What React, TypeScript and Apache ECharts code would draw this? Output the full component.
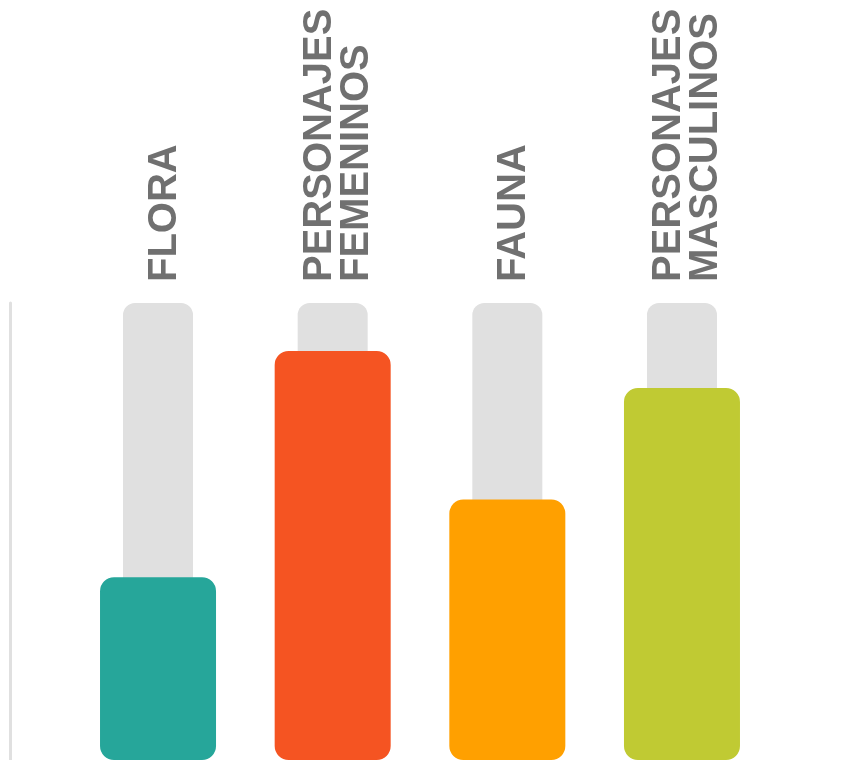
import React, { useEffect, useRef } from "react";
import * as echarts from "echarts";

const categories = ["FLORA", "PERSONAJES\nFEMENINOS", "FAUNA", "PERSONAJES\nMASCULINOS"];
const values = [40, 89.5, 57, 81.4];
const maxValues = [100, 100, 100, 100];
const barColors = ["#26a69a", "#f55422", "#ffa000", "#c0ca33"];

export default function App() {
  const ref = useRef<HTMLDivElement>(null);
  useEffect(() => {
    if (!ref.current) return;
    const chart = echarts.init(ref.current, null, { renderer: "svg" });
    const labelStyle = {
      fontSize: 40,
      lineHeight: 35,
      fontWeight: "bold",
      fontFamily: "Liberation Sans",
      color: "#707070",
    };
    chart.setOption({
      animation: false,
      grid: { left: 70.7, right: 86.7, top: 303, bottom: -2 },
      xAxis: [
        {
          type: "category",
          data: categories,
          position: "top",
          axisLine: { show: false },
          axisTick: { show: false },
          axisLabel: {
            rotate: 90,
            interval: 0,
            margin: 21,
            ...labelStyle,
            formatter: (v: string) =>
              v
                .split("\n")
                .map((line, i, arr) => (i === arr.length - 1 ? `{b|${line}}` : `{a|${line}}`))
                .join("\n"),
            rich: {
              a: { ...labelStyle, height: 38, verticalAlign: "top" },
              b: { ...labelStyle, height: 42, verticalAlign: "top" },
            },
          },
        },
        {
          type: "category",
          data: categories,
          show: false,
        },
      ],
      yAxis: {
        type: "value",
        min: 0,
        max: 100,
        offset: 60.5,
        axisLine: { show: true, lineStyle: { color: "#e0e0e0", width: 3 } },
        axisTick: { show: false },
        axisLabel: { show: false },
        splitLine: { show: false },
      },
      series: [
        {
          type: "bar",
          xAxisIndex: 1,
          data: maxValues,
          barWidth: 70,
          itemStyle: { color: "#e0e0e0", borderRadius: 12 },
          silent: true,
        },
        {
          type: "bar",
          xAxisIndex: 0,
          data: values.map((v, i) => ({ value: v, itemStyle: { color: barColors[i] } })),
          barWidth: 116,
          itemStyle: { borderRadius: 14 },
        },
      ],
    });
    return () => chart.dispose();
  }, []);
  return (
    <div
      ref={ref}
      style={{ position: "fixed", left: 0, top: 0, width: 856, height: 760 }}
    />
  );
}
